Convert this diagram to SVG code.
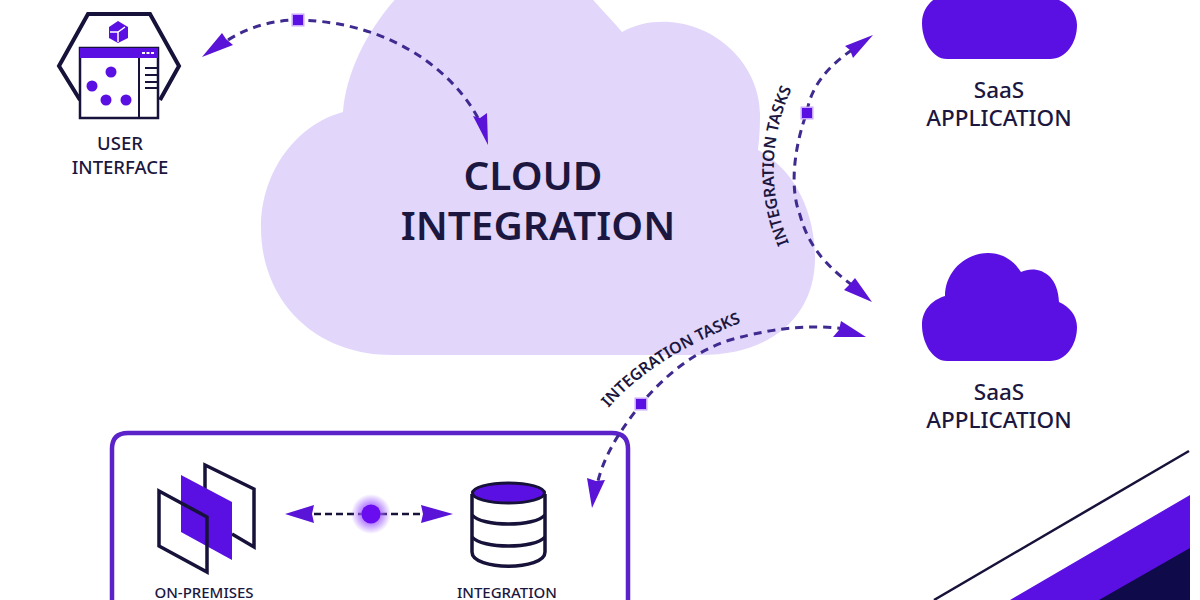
<svg xmlns="http://www.w3.org/2000/svg" width="1200" height="600" viewBox="0 0 1200 600">
<style>
.lbl{font-family:"Noto Sans","Open Sans","Liberation Sans",sans-serif;font-weight:500;fill:#1c1740;text-anchor:middle}
.title{font-size:40.500px;font-weight:600}
.saas{font-size:22.500px}
.small{font-size:18.500px}
.tiny{font-size:15px}
.task{font-size:16px;font-weight:600}
.wire{fill:none;stroke:#3f2a8f;stroke-width:3;stroke-dasharray:8 6}
.ink{fill:none;stroke:#16123a;stroke-width:3.500}
.violet{fill:#5a10e2}
.head{fill:#5a14d8}
.stop{fill:#5a10e2;stroke:#c9a8ff;stroke-width:3;paint-order:stroke}
</style>
<defs>
<path id="saas-cloud" d="M947 361C932 361 922 342 922 325C922 310 932 300 945 296C945 272 965 253 988 253C1003 253 1014 261 1021 272C1036 265 1058 272 1059 302C1070 307 1077 316 1077 327C1077 345 1066 361 1050 361Z"/>
<radialGradient id="halo"><stop offset="0.45" stop-color="#a060ff" stop-opacity="0.8"/><stop offset="1" stop-color="#a060ff" stop-opacity="0"/></radialGradient>
<path id="task-arc-right" d="M790 246Q756 165 793 86"/>
<path id="task-arc-lower" d="M606 411Q650 358 745 321"/>
</defs>
<rect width="1200" height="600" fill="#fff"/>

<g id="cloud-integration">
<path fill="#e2d7fb" d="M392 355C312 355 261 298 261 228C261 170 298 124 343 112C346 72 368 28 400 -6L588 -6C600 8 612 20 622 32C636 24 652 21 670 22C722 26 762 70 760 118C760 130 759 140 758 150C796 170 815 214 815 258C815 316 772 355 700 355Z"/>
<text class="lbl title" x="533" y="190">CLOUD</text>
<text class="lbl title" x="538" y="240">INTEGRATION</text>
</g>

<g id="user-interface">
<path class="ink" style="stroke-width:4" d="M80 100L59 66L88 14H150L179 66L160 100"/>
<rect x="80" y="48" width="78" height="70" fill="#fff" stroke="#16123a" stroke-width="2.500"/>
<rect class="violet" x="80" y="48" width="78" height="10"/>
<path stroke="#16123a" stroke-width="2" fill="none" d="M139 58V118M145 68H157M145 75H157M145 82H157M145 88H157"/>
<path stroke="#fff" stroke-width="2" stroke-dasharray="3 1.500" d="M142 53H155"/>
<path class="violet" d="M118 21L128 27V38L118 43L109 38V27Z"/>
<path stroke="#fff" stroke-width="1.500" fill="none" d="M110 32H118L125 27M118 32V42"/>
<g class="violet"><circle cx="111" cy="72" r="5.500"/><circle cx="92" cy="86" r="5.500"/><circle cx="106" cy="100" r="5.500"/><circle cx="126" cy="100" r="5.500"/></g>
<text class="lbl small" x="120" y="150">USER</text>
<text class="lbl small" x="120" y="174">INTERFACE</text>
</g>

<g id="saas-top">
<use href="#saas-cloud" class="violet" y="-302"/>
<text class="lbl saas" x="999" y="98">SaaS</text>
<text class="lbl saas" x="999" y="126">APPLICATION</text>
</g>
<g id="saas-bottom">
<use href="#saas-cloud" class="violet"/>
<text class="lbl saas" x="999" y="400">SaaS</text>
<text class="lbl saas" x="999" y="428">APPLICATION</text>
</g>

<g id="on-premises-box">
<path fill="none" stroke="#5a22c8" stroke-width="4.500" d="M112 600V449Q112 433 128 433H612Q628 433 628 449V600"/>
</g>

<g id="on-premises">
<path class="ink" d="M205 490V465L254 489V547L232 534"/>
<path class="violet" d="M181 475L232 502V560L181 532Z"/>
<path class="ink" d="M159 491L207 517V572L159 546Z"/>
<text class="lbl tiny" x="204" y="598">ON-PREMISES</text>
</g>

<g id="integration-store">
<path class="ink" d="M472 494V552C472 571 545 571 545 552V494"/>
<path class="ink" d="M472 515C482 527 535 527 545 515M472 537C482 549 535 549 545 537"/>
<ellipse cx="508.500" cy="493" rx="36" ry="10" fill="#5a10e2" stroke="#16123a" stroke-width="3"/>
<text class="lbl tiny" x="507" y="598">INTEGRATION</text>
</g>

<g id="connectors">
<path class="wire" d="M228 40C250 26 275 20 298 20C395 22 455 75 478 118"/>
<path class="head" d="M202 57L222 33L226 39L233 45Z"/>
<path class="head" d="M488 145L473 116L480 118L487 113Z"/>
<rect class="stop" x="293" y="15" width="10" height="10"/>

<path class="wire" d="M852 50C825 68 810 90 807 112C793 150 790 190 800 215C808 245 825 265 852 285"/>
<path class="head" d="M873 35L845 46L850 50L853 58Z"/>
<path class="head" d="M872 302L855 278L850 284L844 290Z"/>
<rect class="stop" x="802" y="108" width="10" height="10"/>

<path class="wire" d="M845 329C815 325 780 326 730 340C695 351 665 375 641 404C625 425 605 450 597 485"/>
<path class="head" d="M866 337L841 321L839 330L833 337Z"/>
<path class="head" d="M592 508L587 478L596 481L605 480Z"/>
<rect class="stop" x="636" y="399" width="10" height="10"/>
<text class="lbl task"><textPath href="#task-arc-lower" startOffset="50%">INTEGRATION TASKS</textPath></text>
<text class="lbl task"><textPath href="#task-arc-right" startOffset="50%">INTEGRATION TASKS</textPath></text>

<path style="fill:none;stroke:#16123a;stroke-width:2.500;stroke-dasharray:7 4" d="M314 514H422"/>
<path class="head" d="M285 514L314 505L312 514L314 523Z"/>
<path class="head" d="M453 514L421 505L423 514L421 523Z"/>
<circle cx="371" cy="514" r="20" fill="url(#halo)"/>
<circle cx="371" cy="514" r="9.500" fill="#6a0cf0"/>
</g>

<g id="corner-graphic">
<line x1="934" y1="600" x2="1189" y2="451" stroke="#16123a" stroke-width="2.500"/>
<path d="M1010 600L1190 495V600Z" fill="#5a10e2"/>
<path d="M1099 600L1190 548V600Z" fill="#0f0a4a"/>
</g>
</svg>
